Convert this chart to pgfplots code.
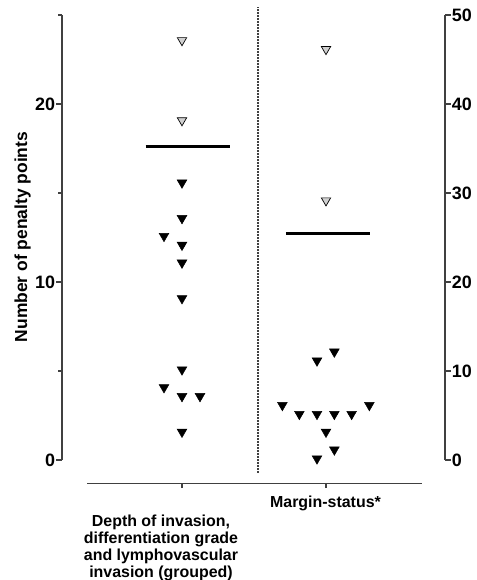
\documentclass[border=0pt]{standalone}
\usepackage{pgfplots}
\pgfplotsset{compat=1.18}
\usepackage{fontspec}
\setmainfont{Liberation Sans}
\definecolor{axisgray}{HTML}{404040}
\definecolor{opengray}{HTML}{D0D0D0}

\pgfplotstableread{
x y
0 15.5
0 13.5
-0.125 12.5
0 12
0 11
0 9
0 5
-0.125 4
0 3.5
0.125 3.5
0 1.5
}\groupAfilled
\pgfplotstableread{
x y
0 23.5
0 19
}\groupAopen
\pgfplotstableread{
x y
0.9375 0
1.058 1
1 3
0.815 5
0.9375 5
1.058 5
1.178 5
0.697 6
1.301 6
0.9375 11
1.058 12
}\groupBfilled
\pgfplotstableread{
x y
1 46
1 29
}\groupBopen

\begin{document}
\begin{tikzpicture}
\useasboundingbox (-62bp,-120bp) rectangle (415bp,460bp);
\pgfplotsset{
  every axis/.append style={scale only axis, width=383bp, height=445bp,
    xmin=-0.8333, xmax=1.8264, clip=false,
    tick align=outside,
    major tick length=5.5bp, minor tick length=3.5bp,
    tick style={axisgray, line width=1.1bp},
    axis line style={axisgray, line width=1.3bp},
    tick label style={font=\fontsize{18}{18}\selectfont\bfseries},
    /pgf/number format/assume math mode=true},
  filledtri/.style={only marks, mark=triangle*, mark size=5.6bp,
    mark options={yshift=1.4bp, rotate=180, fill=black, draw=black, line width=0.5bp}},
  opentri/.style={only marks, mark=triangle*, mark size=5.4bp,
    mark options={yshift=1.35bp, rotate=180, fill=opengray, draw=black, line width=0.7bp}},
}
% left axis
\begin{axis}[
  at={(0,0)}, anchor=south west,
  ymin=0, ymax=25,
  axis y line*=left,
  hide x axis,
  ytick={0,10,20}, minor ytick={5,15,25},
  yticklabel style={inner sep=1.2bp, font=\fontsize{18}{18}\selectfont\bfseries},
  yticklabel={\pgfmathprintnumber[assume math mode=true]{\tick}},
]
\addplot[filledtri] table[x=x,y=y]{\groupAfilled};
\addplot[opentri] table[x=x,y=y]{\groupAopen};
\addplot[black, line width=3bp] coordinates {(-0.252,17.63) (0.333,17.63)};
\end{axis}
% right axis
\begin{axis}[
  at={(0,0)}, anchor=south west,
  ymin=0, ymax=50,
  axis y line*=right,
  hide x axis,
  ytick={0,10,20,30,40,50},
  yticklabel style={inner sep=1.2bp, font=\fontsize{18}{18}\selectfont\bfseries},
  yticklabel={\pgfmathprintnumber[assume math mode=true]{\tick}},
]
\addplot[axisgray, line width=1.2bp, dash pattern=on 1.6bp off 1.4bp] coordinates {(0.528,-1.46) (0.528,50.93)};
\addplot[filledtri] table[x=x,y=y]{\groupBfilled};
\addplot[opentri] table[x=x,y=y]{\groupBopen};
\addplot[black, line width=3bp] coordinates {(0.722,25.5) (1.306,25.5)};
\end{axis}
% x axis
\begin{axis}[
  at={(25bp,-23.5bp)}, anchor=south west,
  width=335bp, height=20bp,
  xmin=-0.6597, xmax=1.6667, ymin=0, ymax=1,
  axis x line*=bottom,
  hide y axis,
  xtick={0,1}, xticklabels={},
  major tick length=4.5bp,
]
\end{axis}
\begin{scope}[every node/.style={font=\fontsize{16}{17}\selectfont\bfseries, inner sep=0pt, anchor=base}]
\node at (99bp,-66bp) {Depth of invasion,};
\node at (99bp,-83bp) {differentiation grade};
\node at (99bp,-100bp) {and lymphovascular};
\node at (99bp,-117bp) {invasion (grouped)};
\node at (263.5bp,-47.7bp) {Margin-status*};
\end{scope}
\node[rotate=90, anchor=base, inner sep=0pt, font=\fontsize{17.5}{18}\selectfont\bfseries] at (-35bp,223bp) {Number of penalty points};
\end{tikzpicture}
\end{document}
